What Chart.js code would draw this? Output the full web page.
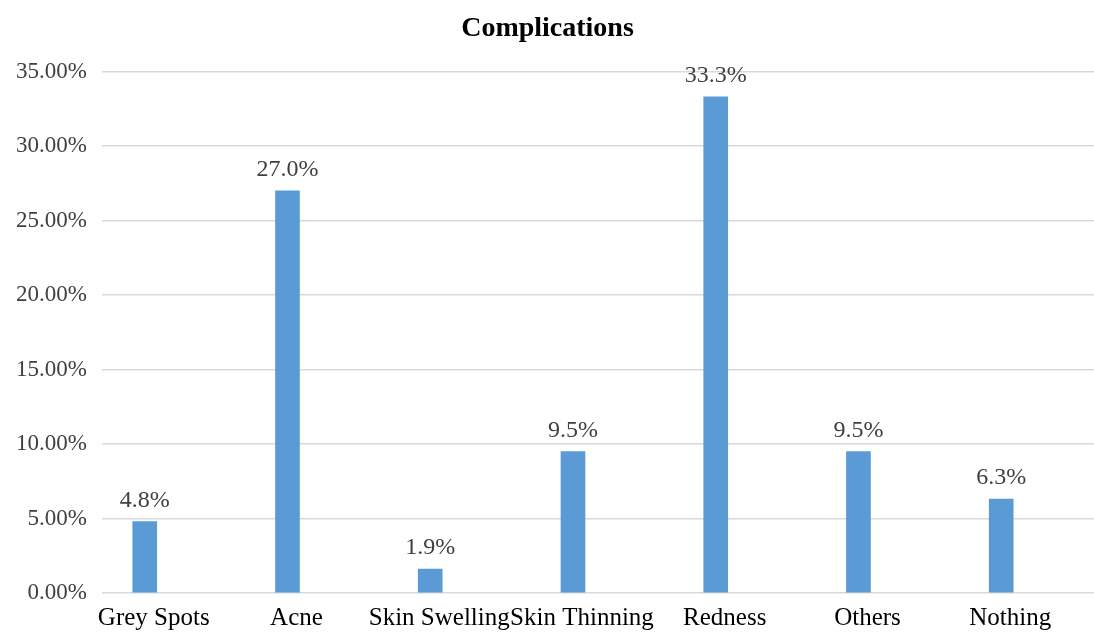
<!DOCTYPE html>
<html>
<head>
<meta charset="utf-8">
<script src="https://cdn.jsdelivr.net/npm/chart.js@4.4.1/dist/chart.umd.min.js"></script>
<style>
  html, body { margin: 0; padding: 0; background: #ffffff; overflow: hidden; }
  #wrap { position: relative; width: 1094px; height: 643px; }
</style>
</head>
<body>
<div id="wrap"><canvas id="c"></canvas></div>
<script>
const chartTitle = "Complications";
const categories = ["Grey Spots", "Acne", "Skin Swelling", "Skin Thinning", "Redness", "Others", "Nothing"];
const values = [4.8, 27.0, 1.6, 9.5, 33.3, 9.5, 6.3];
const valueLabels = ["4.8%", "27.0%", "1.9%", "9.5%", "33.3%", "9.5%", "6.3%"];
const yTicks = [0, 5, 10, 15, 20, 25, 30, 35];

const serif = "'Liberation Serif', 'Times New Roman', serif";

const valueLabelPlugin = {
  id: 'valueLabels',
  afterDatasetsDraw(chart) {
    const ctx = chart.ctx;
    const meta = chart.getDatasetMeta(0);
    ctx.save();
    ctx.font = "24px " + serif;
    ctx.fillStyle = "#404040";
    ctx.textAlign = "center";
    ctx.textBaseline = "middle";
    meta.data.forEach((bar, i) => {
      ctx.fillText(valueLabels[i], bar.x, bar.y - 21);
    });
    ctx.restore();
  }
};

new Chart(document.getElementById('c'), {
  type: 'bar',
  data: {
    datasets: [{
      data: categories.map((c, i) => ({ x: i, y: values[i] })),
      backgroundColor: '#5B9BD5',
      borderWidth: 0,
      barThickness: 24
    }]
  },
  options: {
    responsive: true,
    maintainAspectRatio: false,
    animation: false,
    layout: { padding: { left: 1, right: 0, top: 0, bottom: 0 } },
    plugins: {
      legend: { display: false },
      tooltip: { enabled: false },
      title: {
        display: true,
        text: chartTitle,
        color: '#000000',
        font: { family: serif, size: 28, weight: 'bold' },
        padding: { top: 12, bottom: 26 }
      }
    },
    scales: {
      x: {
        type: 'linear',
        offset: false,
        min: -0.3,
        max: 6.65,
        afterBuildTicks(scale) {
          scale.ticks = categories.map((c, i) => ({ value: i }));
        },
        ticks: {
          callback: (v) => categories[v],
          autoSkip: false,
          maxRotation: 0,
          minRotation: 0,
          labelOffset: 9,
          padding: 10,
          color: '#000000',
          font: { family: serif, size: 25 }
        },
        grid: { display: false, drawTicks: false },
        border: { display: false }
      },
      y: {
        min: 0,
        max: 35,
        afterBuildTicks(scale) {
          scale.ticks = yTicks.map(v => ({ value: v }));
        },
        ticks: {
          callback: (v) => v.toFixed(2) + '%',
          padding: 15,
          color: '#404040',
          font: { family: serif, size: 23 }
        },
        grid: { color: '#d9d9d9', lineWidth: 1.5, drawTicks: false },
        border: { display: false }
      }
    }
  },
  plugins: [valueLabelPlugin]
});
</script>
</body>
</html>
